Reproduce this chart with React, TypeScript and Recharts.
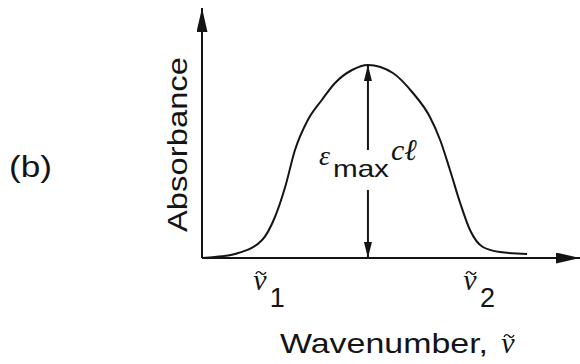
import { LineChart, Line, XAxis, YAxis, ReferenceLine, ReferenceDot } from 'recharts';

// curve: wavenumber (0-100) vs absorbance (0-100)
const wavenumber = [0, 3.4, 8.7, 15.9, 19.3, 22.0, 24.6, 28.0, 31.7, 35.2, 39.7, 43.9, 50.5, 55.8, 60.3, 63.0, 65.6, 68.3, 70.9, 74.3, 78.8, 86.0];
const absorbance = [0, 0.4, 1.6, 7.2, 16.4, 28.4, 43.2, 55.2, 63.2, 70.0, 75.2, 77.2, 74.0, 66.0, 56.4, 47.2, 35.2, 22.0, 11.2, 4.4, 2.4, 1.6];

const tickPositions = [15.3, 70.9];
const tickSubscripts = ['1', '2'];

const peakWavenumber = 43.9;
const peakAbsorbance = 77.2;
// where the double arrow breaks for its label
const arrowGapTop = 43.2;
const arrowGapBottom = 27.2;
const labelLevel = 37.2;

const data = wavenumber.map((w, i) => ({ w, a: absorbance[i] }));

const INK = '#141414';
const SANS = "'Liberation Sans', Arial, sans-serif";
const SERIF = "'Liberation Serif', 'DejaVu Serif', serif";

// nu with a tilde drawn over it, centred on x, baseline y
function NuTilde({ x, y }: { x: number; y: number }) {
  const tx = x + 1;
  const ty = y - 17;
  return (
    <g>
      <text x={x} y={y} textAnchor="middle" fontFamily={SERIF} fontStyle="italic" fontSize={30} fill={INK}>
        ν
      </text>
      <path
        d={`M${tx - 5},${ty + 1} c1.5,-3 3.5,-3 5,-1 s3.5,2 5,-1`}
        fill="none"
        stroke={INK}
        strokeWidth={1.4}
      />
    </g>
  );
}

function NuTick(props: any) {
  const { x, y, payload } = props;
  const i = tickPositions.indexOf(payload.value);
  return (
    <g>
      <NuTilde x={x} y={y + 32} />
      <text x={x + 10} y={y + 49} fontFamily={SANS} fontSize={27} fill={INK}>
        {tickSubscripts[i]}
      </text>
    </g>
  );
}

function XTitle(props: any) {
  const vb = props.viewBox || { x: 202, y: 258 };
  return (
    <g>
      <text x={vb.x + 78} y={vb.y + 95} fontFamily={SANS} fontSize={28} fill={INK} textLength={208} lengthAdjust="spacingAndGlyphs">
        Wavenumber,
      </text>
      <NuTilde x={vb.x + 306} y={vb.y + 95} />
    </g>
  );
}

function YTitle(props: any) {
  const vb = props.viewBox || { x: 0, y: 8 };
  const bx = vb.x + 187;
  const cy = vb.y + 136.5;
  return (
    <g>
      <text
        x={bx}
        y={cy}
        transform={`rotate(-90, ${bx}, ${cy})`}
        textAnchor="middle"
        fontFamily={SANS}
        fontSize={28}
        fill={INK}
        textLength={175}
        lengthAdjust="spacingAndGlyphs"
      >
        Absorbance
      </text>
      <text x={vb.x + 9} y={vb.y + 169} fontFamily={SANS} fontSize={30} fill={INK} textLength={43} lengthAdjust="spacingAndGlyphs">
        (b)
      </text>
    </g>
  );
}

function ArrowPart(props: any) {
  return <line x1={props.x1} y1={props.y1} x2={props.x2} y2={props.y2} stroke={INK} strokeWidth={2} markerEnd="url(#headSmall)" />;
}

function EpsLabel(props: any) {
  const { cx, cy } = props;
  return (
    <g fill={INK}>
      <text x={cx - 49} y={cy} fontFamily={SERIF} fontStyle="italic" fontSize={28}>
        ε
      </text>
      <text x={cx - 35} y={cy + 12} fontFamily={SANS} fontSize={24} textLength={56} lengthAdjust="spacingAndGlyphs">
        max
      </text>
      <text x={cx + 23} y={cy - 5} fontFamily={SERIF} fontStyle="italic" fontSize={30}>
        cℓ
      </text>
    </g>
  );
}

export default function App() {
  return (
    <div style={{ width: 580, height: 364, background: '#fff' }}>
      <style>{'body{margin:0}'}</style>
      <LineChart width={580} height={364} data={data} margin={{ top: 8, right: 0, bottom: 0, left: 0 }}>
        <defs>
          <marker id="headAxis" viewBox="0 0 24 11" refX={24} refY={5.5} markerWidth={24} markerHeight={11} markerUnits="userSpaceOnUse" orient="auto-start-reverse">
            <path d="M0,0 L24,5.5 L0,11 z" fill={INK} />
          </marker>
          <marker id="headSmall" viewBox="0 0 16 8" refX={16} refY={4} markerWidth={16} markerHeight={8} markerUnits="userSpaceOnUse" orient="auto">
            <path d="M0,0 L16,4 L0,8 z" fill={INK} />
          </marker>
        </defs>
        <XAxis
          dataKey="w"
          type="number"
          domain={[0, 100]}
          ticks={tickPositions}
          interval={0}
          height={106}
          tickLine={false}
          tickSize={0}
          tickMargin={0}
          tick={<NuTick />}
          axisLine={{ stroke: INK, strokeWidth: 2, markerEnd: 'url(#headAxis)' }}
          label={{ content: <XTitle /> }}
        />
        <YAxis
          type="number"
          domain={[0, 100]}
          width={202}
          tick={false}
          tickLine={false}
          axisLine={{ stroke: INK, strokeWidth: 2, markerStart: 'url(#headAxis)' }}
          label={{ content: <YTitle /> }}
        />
        <ReferenceLine
          segment={[{ x: peakWavenumber, y: arrowGapTop }, { x: peakWavenumber, y: peakAbsorbance }]}
          shape={<ArrowPart />}
        />
        <ReferenceLine
          segment={[{ x: peakWavenumber, y: arrowGapBottom }, { x: peakWavenumber, y: 0 }]}
          shape={<ArrowPart />}
        />
        <ReferenceDot x={peakWavenumber} y={labelLevel} r={1} shape={<EpsLabel />} />
        <Line dataKey="a" type="monotone" stroke={INK} strokeWidth={2} dot={false} isAnimationActive={false} />
      </LineChart>
    </div>
  );
}
